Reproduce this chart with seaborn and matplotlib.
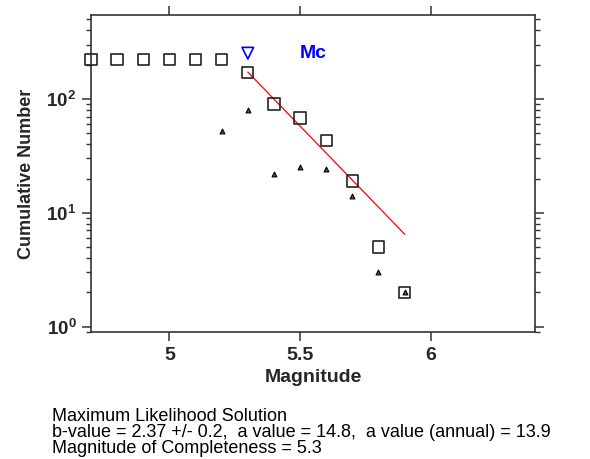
import numpy as np
import pandas as pd
import matplotlib
matplotlib.use("Agg")
import matplotlib.pyplot as plt
import matplotlib.ticker as mticker
import seaborn as sns

# ---- data ----
mag_cum = [4.7, 4.8, 4.9, 5.0, 5.1, 5.2, 5.3, 5.4, 5.5, 5.6, 5.7, 5.8, 5.9]
cum_number = [222, 222, 222, 222, 222, 222, 170, 90, 68, 43, 19, 5, 2]
mag_noncum = [5.2, 5.3, 5.4, 5.5, 5.6, 5.7, 5.8, 5.9]
noncum_number = [52, 80, 22, 25, 24, 14, 3, 2]
fit_mag = [5.3, 5.9]
fit_number = [172, 6.5]
mc_mag = [5.3]
mc_number = [252]
xticks = [5, 5.5, 6]
xticklabels = ["5", "5.5", "6"]
info_lines = ["Maximum Likelihood Solution",
              "b-value = 2.37 +/- 0.2,  a value = 14.8,  a value (annual) = 13.9",
              "Magnitude of Completeness = 5.3"]

sns.set_style("ticks")
plt.rcParams["font.family"] = ["Liberation Sans", "DejaVu Sans"]
plt.rcParams["mathtext.fontset"] = "custom"
plt.rcParams["mathtext.rm"] = "Liberation Sans"
plt.rcParams["mathtext.bf"] = "Liberation Sans:bold"
plt.rcParams["mathtext.it"] = "Liberation Sans:italic"

df_cum = pd.DataFrame({"mag": mag_cum, "n": cum_number})
df_non = pd.DataFrame({"mag": mag_noncum, "n": noncum_number})
df_fit = pd.DataFrame({"mag": fit_mag, "n": fit_number})
df_mc = pd.DataFrame({"mag": mc_mag, "n": mc_number})

fig = plt.figure(figsize=(5.9, 4.59), dpi=100)
ax = fig.add_axes([0.1542, 0.276, 0.9073 - 0.1542, 0.9667 - 0.276])

sns.lineplot(data=df_fit, x="mag", y="n", ax=ax, color="red", linewidth=0.9, zorder=2)
sns.scatterplot(data=df_cum, x="mag", y="n", ax=ax, marker="s", s=66,
                facecolor="none", edgecolor="#222222", linewidth=1.2, zorder=3,
                clip_on=False)
sns.scatterplot(data=df_non, x="mag", y="n", ax=ax, marker="^", s=12,
                color="#555555", edgecolor="black", linewidth=0.8, zorder=4)
sns.scatterplot(data=df_mc, x="mag", y="n", ax=ax, marker="v", s=70,
                facecolor="none", edgecolor="blue", linewidth=1.2, zorder=4)
ax.text(5.5, mc_number[0], "Mc", color="blue", fontsize=14, fontweight="bold",
        ha="left", va="center")

ax.set_yscale("log")
ax.set_xlim(4.7, 6.4)
ax.set_ylim(0.893, 542)
ax.set_xticks(xticks)
ax.set_xticklabels(xticklabels)
ax.yaxis.set_major_locator(mticker.LogLocator(base=10, numticks=10))
ax.yaxis.set_minor_locator(mticker.LogLocator(base=10, subs=np.arange(2, 10), numticks=10))
ax.yaxis.set_major_formatter(mticker.FuncFormatter(
    lambda v, p: r"$\mathbf{10^{%d}}$" % int(round(np.log10(v)))))
ax.yaxis.set_minor_formatter(mticker.NullFormatter())

for s in ax.spines.values():
    s.set_visible(True)
    s.set_color("#333333")
    s.set_linewidth(1.2)

ax.tick_params(axis="both", which="major", direction="out", length=6.5, width=1.1,
               color="#333333", labelsize=14, pad=4)
ax.tick_params(axis="y", which="major", labelsize=13.5)
ax.tick_params(axis="y", which="minor", direction="out", length=3.5, width=1.0,
               color="#333333")
ax.tick_params(top=True, right=True, which="both")
ax.tick_params(axis="x", which="minor", top=False, bottom=False)
for lab in ax.get_xticklabels() + ax.get_yticklabels():
    lab.set_fontweight("bold")

ax.set_xlabel("Magnitude", fontsize=14, fontweight="bold", labelpad=4)
ax.set_ylabel("Cumulative Number", fontsize=13, fontweight="bold", labelpad=8)

fig.text(52 / 590, 1 - 408 / 459, "\n".join(info_lines), fontsize=13,
         ha="left", va="top", linespacing=0.93, color="black")

fig.savefig("out.png", dpi=100)
